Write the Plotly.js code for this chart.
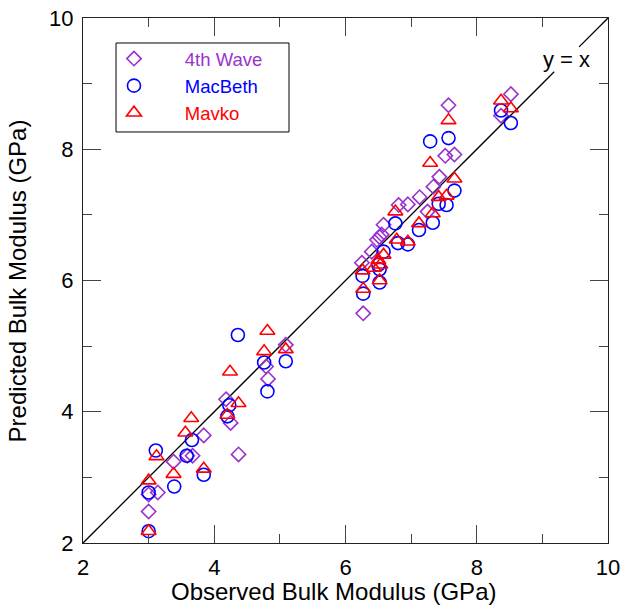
<!DOCTYPE html>
<html>
<head>
<meta charset="utf-8">
<script src="https://cdn.plot.ly/plotly-3.0.1.min.js"></script>
<style>html,body{margin:0;padding:0;background:#fff;}#chart{width:622px;height:607px;}</style>
</head>
<body>
<div id="chart"></div>
<script>
// 4th Wave (purple diamonds)
const waveObs  = [3.0, 3.0, 3.14, 3.38, 3.59, 3.67, 3.84, 4.18, 4.25, 4.37, 4.79, 4.82, 5.09, 6.27, 6.25, 6.40, 6.48, 6.52, 6.55, 6.58, 6.81, 6.95, 7.13, 7.25, 7.34, 7.43, 7.52, 7.66, 7.57, 8.37, 8.52];
const wavePred = [2.48, 2.74, 2.77, 3.24, 3.33, 3.33, 3.64, 4.19, 3.83, 3.35, 4.69, 4.50, 5.02, 5.50, 6.27, 6.44, 6.62, 6.66, 6.70, 6.85, 7.15, 7.16, 7.27, 7.05, 7.43, 7.58, 7.90, 7.92, 8.67, 8.51, 8.84];
// MacBeth (blue circles)
const macObs  = [3.0, 3.0, 3.11, 3.39, 3.58, 3.66, 3.84, 4.20, 4.23, 4.36, 4.76, 4.81, 5.09, 6.27, 6.26, 6.52, 6.52, 6.50, 6.58, 6.76, 6.80, 6.95, 7.12, 7.33, 7.29, 7.57, 7.42, 7.54, 7.66, 8.37, 8.52];
const macPred = [2.18, 2.77, 3.41, 2.86, 3.33, 3.57, 3.04, 3.93, 4.10, 5.17, 4.75, 4.31, 4.77, 5.80, 6.07, 5.97, 6.17, 6.24, 6.44, 6.87, 6.57, 6.55, 6.77, 6.88, 8.12, 8.17, 7.17, 7.15, 7.37, 8.59, 8.40];
// Mavko (red triangles)
const mavObs  = [3.0, 3.0, 3.12, 3.38, 3.56, 3.65, 3.84, 4.20, 4.24, 4.37, 4.76, 4.81, 5.09, 6.27, 6.26, 6.43, 6.53, 6.50, 6.52, 6.58, 6.76, 6.78, 6.95, 7.12, 7.33, 7.29, 7.42, 7.54, 7.57, 7.66, 8.37, 8.52];
const mavPred = [2.18, 2.95, 3.32, 3.05, 3.68, 3.90, 3.13, 3.95, 4.61, 4.13, 4.92, 5.23, 4.95, 5.87, 6.15, 6.19, 6.24, 6.31, 6.00, 6.39, 7.05, 6.62, 6.59, 6.87, 7.02, 7.79, 7.27, 7.29, 8.44, 7.55, 8.74, 8.62];
// y = x reference line (broken around its label)
const refX = [2, 9.18, null, 9.56, 10];
const refY = [2, 9.18, null, 9.56, 10];
const refLabel = 'y = x';
const refLabelPos = 9.37;
const tickVals = [2, 4, 6, 8, 10];
const seriesNames = ['4th Wave', 'MacBeth', 'Mavko'];
const xTitle = 'Observed Bulk Modulus (GPa)';
const yTitle = 'Predicted Bulk Modulus (GPa)';

const FONT = 'Liberation Sans, Arial, sans-serif';
const purple = '#9933CC', blue = '#0000FF', red = '#FF0000';
const pad = '\u00A0\u00A0\u00A0\u00A0\u00A0\u00A0';
function legName(n, c) { return '<span style="color:' + c + '">' + pad + n + '</span>'; }

const traces = [
  {x: refX, y: refY, mode: 'lines', line: {color: '#000', width: 1.3}, showlegend: false, hoverinfo: 'skip'},
  {x: waveObs, y: wavePred, mode: 'markers', name: legName(seriesNames[0], purple),
   marker: {symbol: 'diamond-open', size: 11, color: purple, line: {width: 1.6}}},
  {x: macObs, y: macPred, mode: 'markers', name: legName(seriesNames[1], blue),
   marker: {symbol: 'circle-open', size: 13, color: blue, line: {width: 1.6}}},
  {x: mavObs, y: mavPred, mode: 'markers', name: legName(seriesNames[2], red),
   marker: {symbol: 'triangle-up-open', size: 13, color: red, line: {width: 1.6}}}
];

const axisCommon = {
  range: [2, 10], tickvals: tickVals, ticks: 'inside', ticklen: 18, tickwidth: 1, tickcolor: '#444',
  showline: true, linecolor: '#222', linewidth: 1, mirror: 'allticks', showgrid: false, zeroline: false,
  minor: {dtick: 1, tick0: 1, ticks: 'inside', ticklen: 9, tickcolor: '#444', tickwidth: 1, showgrid: false},
  tickfont: {family: FONT, size: 22, color: '#000'}
};

const layout = {
  width: 622, height: 607,
  margin: {l: 83, r: 14, t: 18, b: 64},
  paper_bgcolor: '#fff', plot_bgcolor: '#fff',
  font: {family: FONT, color: '#000'},
  xaxis: Object.assign({}, axisCommon, {ticklabelstandoff: 5}),
  yaxis: Object.assign({}, axisCommon, {ticklabelstandoff: 4}),
  showlegend: true,
  legend: {x: 0.059, y: 0.958, xanchor: 'left', yanchor: 'top', bgcolor: 'rgba(0,0,0,0)', borderwidth: 0,
           font: {family: FONT, size: 18.5}, itemwidth: 30, tracegroupgap: 0},
  shapes: [{type: 'rect', xref: 'paper', yref: 'paper', x0: 0.0629, x1: 0.3924, y0: 0.7829, y1: 0.9524,
            line: {color: '#000', width: 1}, fillcolor: 'rgba(0,0,0,0)', layer: 'above'}],
  annotations: [
    {x: refLabelPos, y: refLabelPos, xref: 'x', yref: 'y', text: refLabel, showarrow: false,
     font: {family: FONT, size: 22, color: '#000'}},
    {x: 0.477, y: -0.0933, xref: 'paper', yref: 'paper', text: xTitle, showarrow: false,
     xanchor: 'center', yanchor: 'middle', font: {family: FONT, size: 24, color: '#000'}},
    {x: -0.124, y: 0.5, xref: 'paper', yref: 'paper', text: yTitle, showarrow: false, textangle: -90,
     xanchor: 'center', yanchor: 'middle', font: {family: FONT, size: 24, color: '#000'}}
  ]
};

Plotly.newPlot('chart', traces, layout, {displayModeBar: false, staticPlot: true});
</script>
</body>
</html>
